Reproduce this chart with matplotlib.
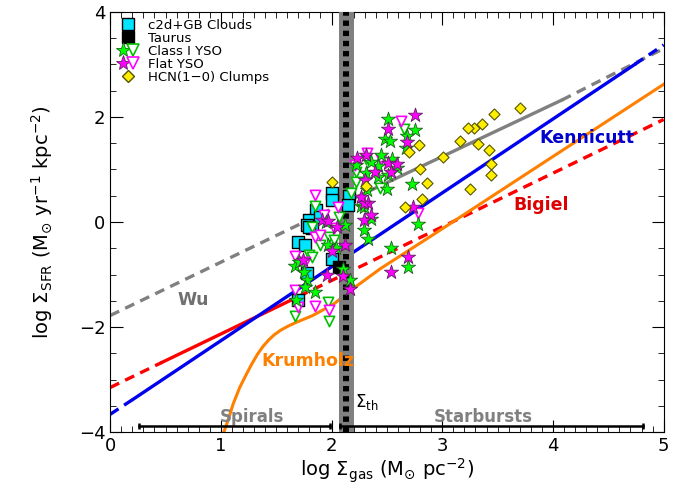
import matplotlib
matplotlib.use("Agg")
import matplotlib.pyplot as plt
from matplotlib.lines import Line2D
from matplotlib.legend_handler import HandlerTuple
from matplotlib.ticker import MultipleLocator

# c2d + Gould Belt clouds and Taurus
clouds_x = [2.00, 2.00, 2.16, 2.15, 1.86, 1.80, 1.78, 1.82, 1.90, 1.80, 1.70, 1.76, 2.00, 1.78, 1.70]
clouds_y = [0.55, 0.41, 0.50, 0.32, 0.22, 0.04, -0.06, -0.12, 0.10, -0.09, -0.38, -0.44, -0.70, -0.98, -1.49]
taurus_x = [2.07]
taurus_y = [-0.86]

# Class I YSOs (stars) and their limits (triangles)
class1_x = [2.51, 2.75, 2.48, 2.53, 2.68, 2.67, 2.45, 2.42, 2.59, 2.42, 2.51, 2.50, 2.73, 2.27,
            2.78, 2.54, 2.69, 2.29, 2.36, 2.29, 2.33, 2.22, 2.31, 2.32, 1.95, 2.12, 1.97, 2.04,
            1.67, 1.75, 1.78, 2.10, 2.17, 1.85, 1.68, 1.76, 1.71, 2.36, 2.55]
class1_y = [1.95, 1.75, 1.58, 1.54, 1.63, 1.40, 1.28, 1.06, 1.03, 0.86, 0.90, 0.63, 0.73, 0.30,
            -0.03, -0.49, -0.86, 0.29, 0.05, -0.15, -0.33, 1.09, 0.93, 0.61, 0.00, -0.05, -0.44, -0.50,
            -0.84, -0.95, -1.11, -0.90, -1.11, -1.33, -1.49, -1.24, -0.76, 1.15, 1.20]
class1_lim_x = [2.65, 2.31, 2.44, 2.22, 2.22, 1.85, 2.18, 2.07, 1.82, 1.98, 2.02, 1.90, 1.80,
                1.82, 1.67, 1.97, 1.98]
class1_lim_y = [1.76, 1.20, 0.64, 0.96, 0.77, 0.31, 0.55, 0.10, -0.09, -0.28, -0.34, -0.44, -0.63,
                -0.66, -1.78, -1.53, -1.88]

# Flat spectrum YSOs (stars) and their limits (triangles)
flat_x = [2.75, 2.51, 2.68, 2.31, 2.23, 2.51, 2.59, 2.39, 2.54, 2.30, 2.33, 2.74, 2.36, 2.29,
          2.69, 2.54, 2.29, 1.91, 1.97, 2.05, 2.00, 2.12, 1.96, 2.10, 2.17, 1.74, 2.27]
flat_y = [2.03, 1.77, 1.52, 1.28, 1.22, 1.13, 1.11, 0.96, 0.96, 0.79, 0.37, 0.29, 0.13, 0.04,
          -0.67, -0.95, 0.36, 0.04, 0.01, -0.09, -0.56, -0.44, -1.00, -1.02, -1.27, -0.73, 0.48]
flat_lim_x = [2.63, 2.32, 2.45, 2.21, 2.78, 1.85, 2.06, 1.93, 2.02, 1.85, 1.90, 1.67, 1.76,
              1.67, 1.70, 1.85, 1.98]
flat_lim_y = [1.93, 1.32, 1.19, 1.09, 0.17, 0.51, 0.29, 0.13, -0.12, -0.28, -0.25, -0.64, -0.76,
              -1.30, -1.61, -1.60, -1.68]

# HCN(1-0) clumps
hcn_x = [3.70, 3.47, 3.36, 3.29, 3.23, 3.16, 3.32, 3.42, 3.44, 3.44, 3.25, 3.01, 2.80, 2.86,
         2.82, 2.66, 2.79, 2.70, 2.31, 2.00]
hcn_y = [2.16, 2.05, 1.87, 1.79, 1.79, 1.55, 1.49, 1.37, 1.10, 0.90, 0.63, 1.24, 1.01, 0.74,
         0.43, 0.29, 1.47, 1.33, 0.68, 0.76]

# Relations: break points (dashed / solid / dashed) and the values read there
kenn_x = [0.0, 0.21, 4.74, 5.0]
kenn_y = [-3.66, -3.37, 3.00, 3.37]
bigiel_x = [0.0, 0.47, 1.70, 5.0]
bigiel_y = [-3.15, -2.67, -1.42, 1.95]
wu_x = [0.0, 2.10, 4.08, 5.0]
wu_y = [-1.78, 0.35, 2.32, 3.30]

krum_x = [0.96, 1.03, 1.07, 1.11, 1.17, 1.23, 1.28, 1.33, 1.38, 1.43, 1.48, 1.54, 1.60, 1.67,
          1.75, 1.83, 2.02, 2.20, 2.44, 2.89, 5.0]
krum_y = [-4.3, -3.98, -3.74, -3.47, -3.15, -2.90, -2.70, -2.52, -2.37, -2.25, -2.15, -2.06,
          -1.99, -1.92, -1.85, -1.78, -1.56, -1.26, -0.89, -0.28, 2.62]

# Threshold and the ranges for spirals and starbursts
sigma_th = 2.13
spiral_range = [0.26, 1.99]
starburst_range = [2.08, 4.81]
range_y = -3.89

plt.figure(figsize=(6.8, 4.9), dpi=100)
ax = plt.axes([0.162, 0.118, 0.814, 0.858])

# Straight relations: dashed outside the fitted range, solid inside
def draw_relation(xs, ys, color):
    ax.plot(xs[0:2], ys[0:2], color=color, lw=2.4, ls=(0, (3, 2)), zorder=2)
    ax.plot(xs[1:3], ys[1:3], color=color, lw=2.4, zorder=2)
    ax.plot(xs[2:4], ys[2:4], color=color, lw=2.4, ls=(0, (3, 2)), zorder=2)

draw_relation(wu_x, wu_y, "#808080")
draw_relation(bigiel_x, bigiel_y, "#ff0000")
draw_relation(kenn_x, kenn_y, "#0000ee")
ax.plot(krum_x, krum_y, color="#ff8000", lw=2.2, zorder=2)

# Threshold band with the dotted line on it
ax.axvspan(2.07, 2.20, color="#808080", lw=0, zorder=3)
ax.axvline(sigma_th, color="black", lw=4.3, ls=(0, (0.9, 0.8)), zorder=3)

# Data points
ax.scatter(clouds_x, clouds_y, marker="s", s=65, c="#00e5ff", edgecolors="black", lw=1.0, zorder=5)
ax.scatter(taurus_x, taurus_y, marker="s", s=65, c="black", edgecolors="black", zorder=5)
ax.scatter(class1_lim_x, class1_lim_y, marker="v", s=55, facecolors="white", edgecolors="#00c000", lw=1.2, zorder=5)
ax.scatter(flat_lim_x, flat_lim_y, marker="v", s=55, facecolors="white", edgecolors="#ff00ff", lw=1.2, zorder=5)
ax.scatter(class1_x, class1_y, marker="*", s=115, c="#00ff00", edgecolors="#206020", lw=0.6, zorder=6)
ax.scatter(flat_x, flat_y, marker="*", s=115, c="#ff00ff", edgecolors="#602060", lw=0.6, zorder=6)
ax.scatter(hcn_x, hcn_y, marker="D", s=32, c="#ffee00", edgecolors="#555500", lw=0.8, zorder=6)

# Spiral and starburst ranges
for rng in (spiral_range, starburst_range):
    ax.plot(rng, [range_y, range_y], color="black", lw=1.8, marker="|", ms=5, mew=1.8, zorder=4)

# Labels of the relations
ax.text(3.88, 1.6, "Kennicutt", color="#0000cc", fontsize=12.5, fontweight="bold", va="center")
ax.text(3.64, 0.33, "Bigiel", color="#dd0000", fontsize=12.5, fontweight="bold", va="center")
ax.text(0.61, -1.48, "Wu", color="#707070", fontsize=12.5, fontweight="bold", va="center")
ax.text(1.37, -2.64, "Krumholz", color="#ff8000", fontsize=12.5, fontweight="bold", va="center")
ax.text(1.28, -3.72, "Spirals", color="#808080", fontsize=12, fontweight="bold", ha="center", va="center")
ax.text(3.37, -3.72, "Starbursts", color="#808080", fontsize=12, fontweight="bold", ha="center", va="center")
ax.text(2.21, -3.42, r"$\Sigma_{\rm th}$", color="black", fontsize=12, va="center")

# Legend
handles = [
    Line2D([], [], ls="none", marker="s", ms=8, mfc="#00e5ff", mec="black"),
    Line2D([], [], ls="none", marker="s", ms=8, mfc="black", mec="black"),
    (Line2D([], [], ls="none", marker="*", ms=11, mfc="#00ff00", mec="#206020", mew=0.6),
     Line2D([], [], ls="none", marker="v", ms=8, mfc="white", mec="#00c000", mew=1.2)),
    (Line2D([], [], ls="none", marker="*", ms=11, mfc="#ff00ff", mec="#602060", mew=0.6),
     Line2D([], [], ls="none", marker="v", ms=8, mfc="white", mec="#ff00ff", mew=1.2)),
    Line2D([], [], ls="none", marker="D", ms=6, mfc="#ffee00", mec="#555500"),
]
labels = ["c2d+GB Clouds", "Taurus", "Class I YSO", "Flat YSO", "HCN(1\u22120) Clumps"]
ax.legend(handles, labels, loc="upper left", bbox_to_anchor=(0.0, 1.0), frameon=False,
          fontsize=9.5, labelspacing=0.0, handlelength=1.6, handletextpad=0.7, borderaxespad=0.15,
          handler_map={tuple: HandlerTuple(ndivide=None, pad=0.0)})

# Axes
ax.set_xlim(0, 5)
ax.set_ylim(-4, 4)
ax.xaxis.set_major_locator(MultipleLocator(1))
ax.xaxis.set_minor_locator(MultipleLocator(0.1))
ax.yaxis.set_major_locator(MultipleLocator(2))
ax.yaxis.set_minor_locator(MultipleLocator(0.5))
ax.tick_params(which="both", direction="in", top=True, right=True, labelsize=13)
ax.tick_params(which="major", length=9)
ax.tick_params(which="minor", length=4)
ax.set_xlabel(r"log $\Sigma_{\rm gas}$ (M$_{\odot}$ pc$^{-2}$)", fontsize=14, labelpad=1)
ax.set_ylabel(r"log $\Sigma_{\rm SFR}$ (M$_{\odot}$ yr$^{-1}$ kpc$^{-2}$)", fontsize=14, labelpad=17)

plt.savefig("out.png")
